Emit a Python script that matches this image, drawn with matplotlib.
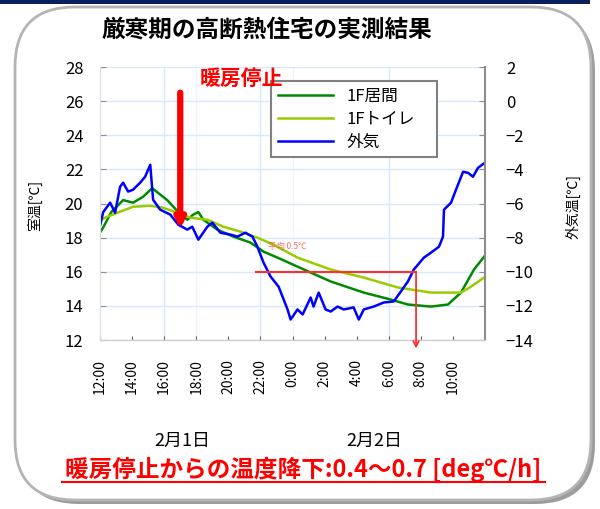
import matplotlib.pyplot as plt
from matplotlib.patches import FancyBboxPatch, Rectangle
from matplotlib.lines import Line2D
from matplotlib.transforms import blended_transform_factory

plt.rcParams['font.family'] = ['Noto Sans CJK JP', 'DejaVu Sans']

# ===== Data (hours counted from 12:00 on Feb 1) =====
time_ticks = list(range(0, 24, 2))
time_labels = ["12:00", "14:00", "16:00", "18:00", "20:00", "22:00",
               "0:00", "2:00", "4:00", "6:00", "8:00", "10:00"]

# 1F living room [deg C] (left axis)
living_h = [0.0, 0.2, 0.7, 1.44, 2.06, 2.69, 3.25, 4.19, 4.88, 5.44, 5.81,
            6.13, 6.44, 7.31, 8.31, 9.38, 10.19, 11.06, 12.31, 14.38, 16.44,
            18.13, 19.19, 20.63, 21.69, 22.5, 23.31, 24.0]
living_t = [18.3, 18.6, 19.5, 20.2, 20.05, 20.4, 20.9, 20.2, 19.5, 19.05, 19.35,
            19.5, 19.05, 18.47, 18.06, 17.71, 17.18, 16.83, 16.3, 15.43, 14.78,
            14.37, 14.08, 13.96, 14.08, 14.78, 16.13, 16.95]

# 1F toilet [deg C] (left axis)
toilet_h = [0.0, 0.31, 1.25, 2.06, 3.13, 3.94, 4.81, 5.63, 6.69, 7.69, 8.75,
            9.81, 10.81, 12.31, 14.38, 16.44, 18.56, 20.63, 22.5, 23.13, 24.0]
toilet_t = [19.0, 19.17, 19.52, 19.81, 19.87, 19.75, 19.46, 19.17, 19.05, 18.64, 18.35,
            18.0, 17.59, 16.83, 16.13, 15.66, 15.08, 14.78, 14.78, 15.13, 15.7]

# outside air [deg C] (right axis)
out_h = [0.0, 0.2, 0.63, 0.94, 1.25, 1.44, 1.75, 2.06, 2.5, 2.81, 3.13, 3.31,
         3.75, 4.38, 4.88, 5.44, 5.75, 6.13, 6.69, 7.0, 7.5, 8.13, 8.56, 9.06,
         9.5, 9.81, 10.19, 10.63, 11.13, 11.69, 11.88, 12.31, 12.63, 13.13,
         13.31, 13.63, 14.06, 14.38, 14.81, 15.19, 15.81, 16.13, 16.44, 17.06,
         17.69, 18.31, 18.75, 19.19, 19.56, 20.19, 20.63, 21.13, 21.38, 21.44,
         21.88, 22.19, 22.63, 22.94, 23.25, 23.56, 24.0]
out_t = [-7.3, -6.5, -5.95, -6.54, -5.02, -4.78, -5.3, -5.19, -4.78, -4.43, -3.73, -5.78,
         -6.36, -6.65, -7.24, -7.53, -7.36, -8.12, -7.36, -7.12, -7.71, -7.82, -7.94, -7.71,
         -7.94, -8.53, -9.46, -10.28, -10.87, -12.21, -12.8, -12.21, -12.5, -11.51,
         -12.04, -11.22, -12.21, -12.33, -12.04, -12.21, -12.09, -12.8, -12.21, -12.04,
         -11.8, -11.74, -11.16, -10.57, -9.87, -9.17, -8.88, -8.53, -7.94, -6.36,
         -5.95, -5.19, -4.14, -4.2, -4.43, -3.91, -3.6]

# ===== Figure and rounded frame =====
fig = plt.figure(figsize=(6, 5.09), dpi=100)

shadow = FancyBboxPatch((0.19, 0.05), 5.76, 4.93,
                        boxstyle="round,pad=0,rounding_size=0.6",
                        transform=fig.dpi_scale_trans, fc='#9c9c9c', ec='none', zorder=-3)
frame = FancyBboxPatch((0.15, 0.09), 5.76, 4.93,
                       boxstyle="round,pad=0,rounding_size=0.6",
                       transform=fig.dpi_scale_trans, fc='white', ec='#b4b4b4', lw=2,
                       zorder=-2)
topbar = Rectangle((0, 5.05), 5.9, 0.04, transform=fig.dpi_scale_trans,
                   fc='#0b1f5c', ec='none', zorder=-1)
fig.patches.extend([shadow, frame, topbar])

# ===== Axes =====
ax = fig.add_axes([0.1667, 0.332, 0.6417, 0.5363])
ax2 = ax.twinx()

ax.plot(living_h, living_t, color='#008a00', lw=1.8, label='1F居間')
ax.plot(toilet_h, toilet_t, color='#99cc00', lw=1.8, label='1Fトイレ')
ax2.plot(out_h, out_t, color='#0000ff', lw=1.8, label='外気')

ax.set_xlim(0, 24)
ax.set_ylim(12, 28)
ax2.set_ylim(-14, 2)
ax.set_yticks(range(12, 29, 2))
ax2.set_yticks(range(-14, 3, 2))
ax.set_xticks(time_ticks)
ax.set_xticklabels(time_labels, rotation=90, fontsize=10)

ax.grid(axis='y', color='#d6eaff', lw=1)
for h in [4, 10, 18]:
    ax.axvline(h, color='#d6eaff', lw=1, zorder=0)
for h in [6, 12]:
    ax.axvline(h, color='#ecf5ff', lw=1, zorder=0)

ax.tick_params(axis='y', direction='in', length=4, color='#909090', labelsize=12, pad=12)
ax.tick_params(axis='x', direction='in', length=3, color='#606060', pad=14)
ax2.tick_params(axis='y', direction='in', length=4, color='#909090', labelsize=12, pad=15)

for a in (ax, ax2):
    a.spines['top'].set_visible(False)
    a.spines['left'].set_color('#dddddd')
    a.spines['bottom'].set_color('#cccccc')
    a.spines['right'].set_visible(False)
ax2.spines['right'].set_visible(True)
ax2.spines['right'].set_color('#8c8c8c')
ax2.spines['right'].set_linewidth(1.5)

# date labels under the time ticks
tr = blended_transform_factory(ax.transData, ax.transAxes)
ax.text(5.1, -0.37, '2月1日', transform=tr, ha='center', va='center', fontsize=13)
ax.text(17.1, -0.37, '2月2日', transform=tr, ha='center', va='center', fontsize=13)

# legend
handles = ax.get_lines()[:2] + ax2.get_lines()[:1]
leg = ax2.legend(handles, [h.get_label() for h in handles], loc='upper left',
                 bbox_to_anchor=(0.423, 0.667, 0.473, 0.311), mode='expand',
                 fontsize=12, handlelength=3.3, labelspacing=0.35, borderpad=0.4,
                 fancybox=False, framealpha=1, edgecolor='#808080')
leg.get_frame().set_linewidth(1.5)
leg.set_zorder(5)

# annotations (right axis units)
ax2.annotate('', xy=(5.0, -7.5), xytext=(5.0, 0.5),
             arrowprops=dict(arrowstyle='-|>', color='#ff0000', lw=4.5,
                             mutation_scale=14, shrinkA=0, shrinkB=0))
ax2.text(6.2, 1.35, '暖房停止', color='#ff0000', fontsize=15, fontweight='bold',
         ha='left', va='center', zorder=10)
ax2.plot([9.7, 19.7], [-10, -10], color='#ff3030', lw=1.5)
ax2.annotate('', xy=(19.7, -14.5), xytext=(19.7, -10),
             arrowprops=dict(arrowstyle='->', color='#ff3030', lw=1.3,
                             shrinkA=0, shrinkB=0), annotation_clip=False)
ax2.text(10.5, -8.5, '平均 0.5℃', color='#ff4040', fontsize=6, alpha=0.8,
         ha='left', va='center')

# titles and labels
fig.text(0.445, 0.941, '厳寒期の高断熱住宅の実測結果', ha='center', va='center',
         fontsize=17, fontweight='bold')
fig.text(35 / 600, 1 - 205 / 509, '室温[℃]', rotation=90, ha='center', va='center',
         fontsize=10)
fig.text(573 / 600, 1 - 207 / 509, '外気温[℃]', rotation=90, ha='center', va='center',
         fontsize=10)
fig.text(0.505, 0.078, '暖房停止からの温度降下:0.4～0.7 [deg℃/h]', color='#ff0000',
         ha='center', va='center', fontsize=17, fontweight='bold')
fig.lines.append(Line2D([62 / 600, 545 / 600], [0.054, 0.054],
                        transform=fig.transFigure, color='#ff0000', lw=1.5))

fig.savefig('out.png', dpi=100)
